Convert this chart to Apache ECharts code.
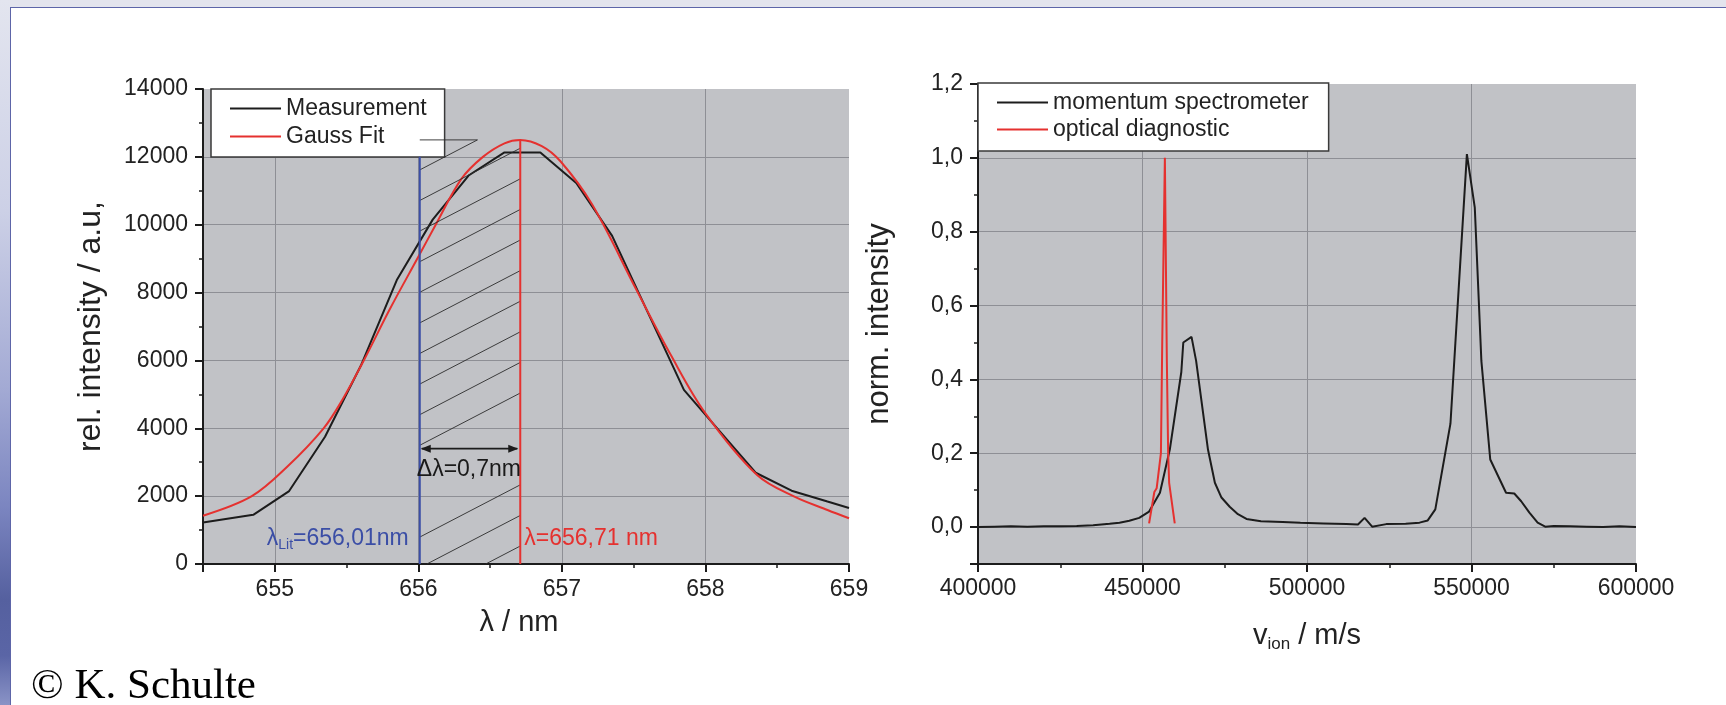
<!DOCTYPE html>
<html>
<head>
<meta charset="utf-8">
<script src="https://cdn.jsdelivr.net/npm/echarts@6/dist/echarts.min.js"></script>
<style>
html,body{margin:0;padding:0;background:#ffffff;}
#wrap{position:relative;width:1726px;height:705px;overflow:hidden;background:#ffffff;}
#topband{position:absolute;left:0;top:0;width:1726px;height:7px;background:#e3e4ed;}
#leftband{position:absolute;left:0;top:0;width:10px;height:705px;
  background:linear-gradient(to bottom,#e3e5ef 0%,#ccd0e6 30%,#a3aad4 55%,#7b85c0 72%,#55609f 85%,#5a65a6 93%,#8a93c6 100%);}
#frame{position:absolute;left:10px;top:7px;width:1716px;height:698px;border-left:1px solid #5d65a8;border-top:1px solid #5d65a8;box-sizing:border-box;}
#c{position:absolute;left:0;top:0;width:1726px;height:705px;}
</style>
</head>
<body>
<div id="wrap">
  <div id="topband"></div>
  <div id="leftband"></div>
  <div id="frame"></div>
  <div id="c"></div>
</div>
<script>
// ---------------- data ----------------
// left panel: H-alpha line
const lambdaMeas = [654.5, 654.85, 655.1, 655.35, 655.6, 655.85, 656.1, 656.35, 656.6, 656.85, 657.1, 657.35, 657.6, 657.85, 658.1, 658.35, 658.6, 658.85, 659.0];
const measIntensity = [1220, 1450, 2150, 3750, 5850, 8370, 10150, 11450, 12130, 12130, 11230, 9670, 7400, 5130, 3910, 2690, 2160, 1840, 1650];
const lambdaGauss = [654.5, 654.84, 655.09, 655.34, 655.47, 655.62, 655.8, 656.0, 656.12, 656.3, 656.45, 656.6, 656.71, 656.86, 656.99, 657.21, 657.52, 657.76, 658.0, 658.36, 658.62, 658.85, 659.0];
const gaussIntensity = [1424, 2000, 2880, 3998, 4833, 6000, 7500, 9056, 9990, 11350, 12000, 12400, 12500, 12318, 11870, 10600, 8075, 6150, 4441, 2623, 1984, 1591, 1347];
// annotation values (nm / intensity)
const lambdaLit = 656.01;
const lambdaFit = 656.71;
const hatchTop = 12500;
const litLineTop = 12000;
const arrowLevel = 3400;
const shiftLabelLevel = 2770;
const valueLabelLevel = 740;
const shiftText = 'Δλ=0,7nm';
const litText = '{a|λ}{s|Lit}{a|=656,01nm}';
const fitText = 'λ=656,71 nm';

// right panel: ion velocity spectra
const vMomentum = [400000, 405000, 410000, 415000, 420000, 425000, 430000, 435000, 440000, 443000, 446000, 449000, 452000, 455300, 458300, 461800, 462400, 464900, 466300, 469900, 472000, 474000, 476500, 479000, 481600, 486000, 492600, 498000, 505000, 512000, 515500, 517500, 519800, 524100, 530000, 534200, 536700, 539000, 543600, 548600, 551000, 553000, 555700, 560500, 563000, 565100, 567600, 570100, 572400, 575000, 580000, 585000, 590000, 595000, 600000];
const momentumIntensity = [0.0, 0.001, 0.002, 0.001, 0.002, 0.002, 0.003, 0.005, 0.009, 0.012, 0.017, 0.025, 0.042, 0.093, 0.21, 0.42, 0.50, 0.515, 0.45, 0.21, 0.12, 0.08, 0.055, 0.035, 0.022, 0.016, 0.014, 0.012, 0.010, 0.008, 0.007, 0.025, 0.001, 0.008, 0.009, 0.012, 0.018, 0.048, 0.28, 1.01, 0.865, 0.45, 0.183, 0.093, 0.091, 0.070, 0.039, 0.012, 0.001, 0.003, 0.002, 0.001, 0.0, 0.002, 0.0];
const vOptical = [452000, 453600, 454300, 455600, 456000, 456800, 457400, 457800, 458100, 459800];
const opticalIntensity = [0.01, 0.095, 0.105, 0.2, 0.5, 1.0, 0.45, 0.2, 0.12, 0.01];

// ---------------- chart ----------------
const FONT = '"Liberation Sans", Arial, Helvetica, sans-serif';
const INK = '#1c1c1c';
const zip = (xs, ys) => xs.map((x, i) => [x, ys[i]]);

function axisBase() {
  return {
    type: 'value',
    axisLine: { show: true, onZero: false, lineStyle: { color: INK, width: 2 } },
    axisTick: { show: true, inside: false, length: 8, lineStyle: { color: INK, width: 2 } },
    minorTick: { show: true, splitNumber: 2, length: 4, lineStyle: { color: INK, width: 1.5 } },
    splitLine: { show: true, showMinLine: false, showMaxLine: false, lineStyle: { color: '#8e8f95', width: 1 } },
    minorSplitLine: { show: false },
    nameLocation: 'middle',
    nameMoveOverlap: false,
    nameTextStyle: { fontSize: 29, lineHeight: 29, color: '#222', fontFamily: FONT }
  };
}

const onGrid = (v, step) => Math.abs(v / step - Math.round(v / step)) < 1e-6;

const chart = echarts.init(document.getElementById('c'), null, { renderer: 'canvas', width: 1726, height: 705 });

const option = {
  animation: false,
  backgroundColor: 'transparent',
  textStyle: { fontFamily: FONT },
  grid: [
    { left: 203, top: 89, width: 646, height: 475, show: true, backgroundColor: '#c1c2c6', borderWidth: 0, containLabel: false, outerBoundsMode: 'none' },
    { left: 978, top: 84, width: 658, height: 480, show: true, backgroundColor: '#c1c2c6', borderWidth: 0, containLabel: false, outerBoundsMode: 'none' }
  ],
  xAxis: [
    Object.assign(axisBase(), {
      gridIndex: 0, min: 654.5, max: 659, minInterval: 1, maxInterval: 1,
      axisLabel: { fontSize: 23, color: '#222', margin: 14, fontFamily: FONT,
        formatter: v => onGrid(v, 1) ? String(Math.round(v)) : '' },
      name: 'λ / nm', nameGap: 44,
      nameTextStyle: { fontSize: 29, lineHeight: 29, color: '#222', fontFamily: FONT, padding: [0, 14, 0, 0] }
    }),
    Object.assign(axisBase(), {
      gridIndex: 1, min: 400000, max: 600000, interval: 50000,
      axisLabel: { fontSize: 23, color: '#222', margin: 13, fontFamily: FONT,
        formatter: v => String(Math.round(v)) },
      name: '{a|v}{s|ion}{a| / m/s}', nameGap: 55,
      nameTextStyle: { fontSize: 29, color: '#222', fontFamily: FONT,
        rich: { a: { fontSize: 29, lineHeight: 34, fontFamily: FONT, color: '#222' },
                s: { fontSize: 17, lineHeight: 10, verticalAlign: 'bottom', fontFamily: FONT, color: '#222' } } }
    })
  ],
  yAxis: [
    Object.assign(axisBase(), {
      gridIndex: 0, min: 0, max: 14000, interval: 2000,
      axisLabel: { fontSize: 23, color: '#222', margin: 15, fontFamily: FONT, formatter: v => String(v) },
      name: 'rel. intensity / a.u,', nameGap: 96,
      nameTextStyle: { fontSize: 32, lineHeight: 32, color: '#222', fontFamily: FONT }
    }),
    Object.assign(axisBase(), {
      gridIndex: 1, min: -0.1, max: 1.2, minInterval: 0.2, maxInterval: 0.2,
      axisLabel: { fontSize: 23, color: '#222', margin: 15, fontFamily: FONT,
        formatter: v => onGrid(v, 0.2) ? Math.abs(v).toFixed(1).replace('.', ',') : '' },
      name: 'norm. intensity', nameGap: 83,
      nameTextStyle: { fontSize: 31, lineHeight: 31, color: '#222', fontFamily: FONT }
    })
  ],
  legend: [
    {
      data: ['Measurement', 'Gauss Fit'], orient: 'vertical', left: 211, top: 89,
      padding: [8, 18, 9, 19], itemGap: 5, itemWidth: 51, itemHeight: 2, icon: 'rect',
      backgroundColor: '#ffffff', borderColor: '#3a3a3a', borderWidth: 1.5, borderRadius: 0,
      selectedMode: false, z: 4,
      textStyle: { fontSize: 23, lineHeight: 23, color: '#222', fontFamily: FONT }
    },
    {
      data: ['momentum spectrometer', 'optical diagnostic'], orient: 'vertical', left: 978, top: 83,
      padding: [8, 20, 10, 19], itemGap: 4, itemWidth: 51, itemHeight: 2, icon: 'rect',
      backgroundColor: '#ffffff', borderColor: '#3a3a3a', borderWidth: 1.5, borderRadius: 0,
      selectedMode: false, z: 4,
      textStyle: { fontSize: 23, lineHeight: 23, color: '#222', fontFamily: FONT }
    }
  ],
  graphic: [
    { type: 'text', left: 31, top: 665, z: 10,
      style: { text: '© K. Schulte', fontSize: 43, fontFamily: '"Liberation Serif", "Times New Roman", serif', fill: '#000' } }
  ],
  series: [
    {
      name: 'Measurement', type: 'line', xAxisIndex: 0, yAxisIndex: 0,
      data: zip(lambdaMeas, measIntensity), symbol: 'none', z: 3,
      lineStyle: { color: INK, width: 2 }, itemStyle: { color: INK }
    },
    {
      name: 'Gauss Fit', type: 'line', xAxisIndex: 0, yAxisIndex: 0,
      data: zip(lambdaGauss, gaussIntensity), symbol: 'none', smooth: 0.35, z: 3,
      lineStyle: { color: '#e5312f', width: 2 }, itemStyle: { color: '#e5312f' }
    },
    {
      name: 'momentum spectrometer', type: 'line', xAxisIndex: 1, yAxisIndex: 1,
      data: zip(vMomentum, momentumIntensity), symbol: 'none', z: 3,
      lineStyle: { color: INK, width: 2 }, itemStyle: { color: INK }
    },
    {
      name: 'optical diagnostic', type: 'line', xAxisIndex: 1, yAxisIndex: 1,
      data: zip(vOptical, opticalIntensity), symbol: 'none', z: 3,
      lineStyle: { color: '#e5312f', width: 2 }, itemStyle: { color: '#e5312f' }
    },
    {
      type: 'custom', xAxisIndex: 0, yAxisIndex: 0, silent: true, clip: false, z: 5,
      data: [[lambdaLit, hatchTop]],
      renderItem: function (params, api) {
        const bl = api.coord([lambdaLit, 0]);
        const tr = api.coord([lambdaFit, hatchTop]);
        const xL = bl[0], yB = bl[1], xR = tr[0], yT = tr[1];
        const yBlueTop = api.coord([lambdaLit, litLineTop])[1];
        const yArrow = api.coord([lambdaLit, arrowLevel])[1];
        const yShift = api.coord([lambdaLit, shiftLabelLevel])[1];
        const yVal = api.coord([lambdaLit, valueLabelLevel])[1];
        const children = [];
        const slope = 0.52, gap = 30.6, first = 30;
        const w = xR - xL;
        const hatchStyle = { stroke: '#2b2b2b', lineWidth: 0.9 };
        for (let y0 = yT + first; y0 < yB + slope * w + gap; y0 += gap) {
          if (y0 > yArrow + 8 && y0 < yArrow + 70) continue;
          let xs = xL, ys = y0;
          if (y0 > yB) { xs = xL + (y0 - yB) / slope; ys = yB; }
          let xe = xR, ye = y0 - slope * w;
          if (ye < yT) { xe = xL + (y0 - yT) / slope; ye = yT; }
          if (xe > xs + 0.5) children.push({ type: 'line', shape: { x1: xs, y1: ys, x2: xe, y2: ye }, style: hatchStyle });
        }
        children.push({ type: 'line', shape: { x1: xL, y1: yT, x2: xL + first / slope, y2: yT }, style: hatchStyle });
        // vertical markers
        children.push({ type: 'line', shape: { x1: xL, y1: yB, x2: xL, y2: yBlueTop }, style: { stroke: '#3b4ea6', lineWidth: 2 } });
        children.push({ type: 'line', shape: { x1: xR, y1: yB, x2: xR, y2: yT }, style: { stroke: '#e5312f', lineWidth: 2 } });
        // double arrow
        children.push({ type: 'line', shape: { x1: xL + 2, y1: yArrow, x2: xR - 3, y2: yArrow }, style: { stroke: INK, lineWidth: 1.6 } });
        children.push({ type: 'polygon', shape: { points: [[xL + 1, yArrow], [xL + 11, yArrow - 4], [xL + 11, yArrow + 4]] }, style: { fill: INK } });
        children.push({ type: 'polygon', shape: { points: [[xR - 2, yArrow], [xR - 12, yArrow - 4], [xR - 12, yArrow + 4]] }, style: { fill: INK } });
        // labels
        children.push({ type: 'text', style: { text: shiftText, x: xL - 3, y: yShift, align: 'left', verticalAlign: 'middle',
          fontSize: 23, fontFamily: FONT, fill: '#1a1a1a' } });
        children.push({ type: 'text', style: { text: litText, x: xL - 11, y: yVal, align: 'right', verticalAlign: 'middle',
          fontSize: 23, fontFamily: FONT, fill: '#3b4ea6',
          rich: { a: { fontSize: 23, lineHeight: 26, fontFamily: FONT, fill: '#3b4ea6' },
                  s: { fontSize: 14, lineHeight: 8, verticalAlign: 'bottom', fontFamily: FONT, fill: '#3b4ea6' } } } });
        children.push({ type: 'text', style: { text: fitText, x: xR + 4, y: yVal, align: 'left', verticalAlign: 'middle',
          fontSize: 23, fontFamily: FONT, fill: '#e5312f' } });
        return { type: 'group', children: children };
      }
    }
  ]
};
chart.setOption(option);
</script>
</body>
</html>
